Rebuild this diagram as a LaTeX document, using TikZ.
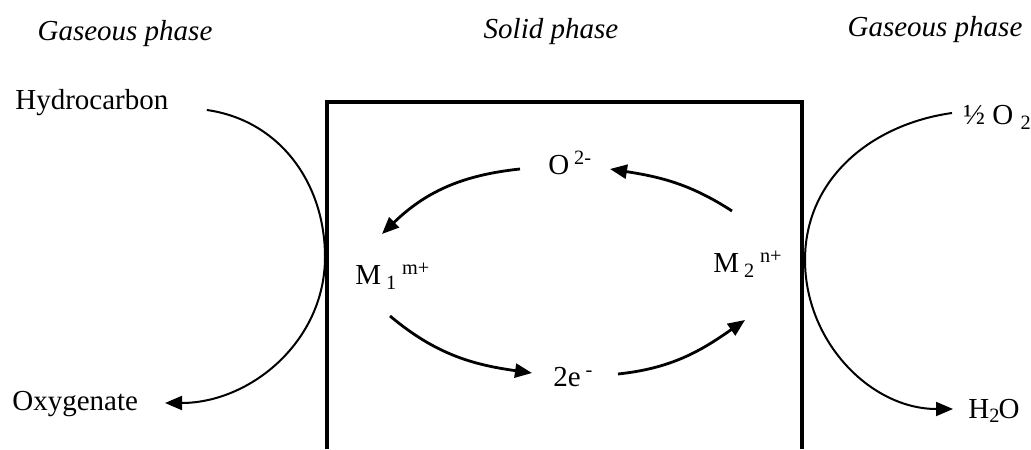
\documentclass[tikz,border=0pt]{standalone}
\usepackage{fontspec}
\setmainfont{Liberation Serif}
\usetikzlibrary{arrows.meta,positioning}

\begin{document}
\begin{tikzpicture}[
    x=0.5pt, y=0.5pt,
    >={Triangle[length=8.5pt,width=7pt]},
    espece/.style={
        inner sep=0pt,
        anchor=base west,
        font=\fontsize{14.5}{17}\selectfont
    },
    phase/.style={
        inner sep=0pt,
        font=\fontsize{14.5}{17}\selectfont\itshape
    },
    gaz/.style={
        ->,
        line width=1pt
    },
    ion/.style={
        ->,
        line width=1.4pt
    },
    paroi/.style={
        line width=1.6pt
    }
]

\useasboundingbox (0,0) rectangle (1031,449);

\node[phase] (gasleft) at (125,415) {Gaseous phase};
\node[phase] (solid) at (551,417) {Solid phase};
\node[phase] (gasright) at (935,419) {Gaseous phase};

\node[espece] (hydro) at (15,339) {Hydrocarbon};
\node[espece] (oxy) at (12,39) {Oxygenate};
\node[espece] (half) at (963,324) {½~O~\textsubscript{2}};
\node[espece] (water) at (968,31) {H\textsubscript{2}\kern-1pt O};

\node[espece] (ox) at (548,274) {O\,\textsuperscript{2-}};
\node[espece] (mone) at (355,164) {M\,\textsubscript{1}\,\textsuperscript{m+}};
\node[espece] (mtwo) at (713,176) {M\,\textsubscript{2}\,\textsuperscript{n+}};
\node[espece] (elec) at (553,62) {2e\,\textsuperscript{-}};

\coordinate (bulgeleft) at (325,192);
\coordinate (bulgeright) at (805,189);

\draw[paroi] (327,0) -- (327,347) -- (802,347) -- (802,0);

\draw[gaz] ([shift={(38,0)}]hydro.base east) to[out=-8,in=90] (bulgeleft)
    to[out=-90,in=0] ([shift={(153,7)}]oxy.base west);
\draw[gaz] ([shift={(-11,12)}]half.base west) to[out=188,in=90] (bulgeright)
    to[out=-90,in=180] ([shift={(-15,9)}]water.base west);

\draw[ion] ([shift={(-28,6)}]ox.base west) to[out=186,in=44]
    ([shift={(27,51)}]mone.base west);
\draw[ion] ([shift={(19,62)}]mtwo.base west) to[out=147,in=-9]
    ([shift={(62,6)}]ox.base west);
\draw[ion] ([shift={(35,-31)}]mone.base west) to[out=-40,in=172]
    ([shift={(-21,14)}]elec.base west);
\draw[ion] ([shift={(65,13)}]elec.base west) to[out=6,in=215]
    ([shift={(32,-47)}]mtwo.base west);

\end{tikzpicture}
\end{document}
